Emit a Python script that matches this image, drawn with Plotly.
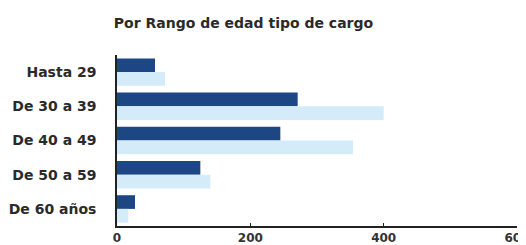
import plotly.graph_objects as go

categories = ["Hasta 29", "De 30 a 39", "De 40 a 49", "De 50 a 59", "De 60 años"]
serie_a = [57, 271, 245, 125, 27]
serie_b = [72, 400, 354, 140, 17]
x_ticks = [0, 200, 400, 600]

# the page body has an 8px margin, so the figure is 8px smaller and offset
W, H, OFF = 518, 237, 8

fig = go.Figure()
fig.add_trace(go.Bar(y=categories, x=serie_a, orientation="h",
                     marker=dict(color="#1d4784", line=dict(width=0)), name="A"))
fig.add_trace(go.Bar(y=categories, x=serie_b, orientation="h",
                     marker=dict(color="#d4ebfa", line=dict(width=0)), name="B"))

fig.update_layout(
    width=W, height=H,
    margin=dict(l=117 - OFF, r=9, t=55 - OFF, b=19, autoexpand=False),
    paper_bgcolor="white", plot_bgcolor="white",
    barmode="group", bargap=0.2, bargroupgap=0,
    showlegend=False,
    title=dict(text="<b>Por Rango de edad tipo de cargo</b>", x=(243.5 - OFF) / W, xanchor="center",
               y=1 - (23 - OFF) / H, yanchor="middle",
               font=dict(family="DejaVu Sans", size=14, color="#2a2a2a")),
    font=dict(family="DejaVu Sans", size=12, color="#222"),
)
fig.update_xaxes(range=[0, 600], tickvals=x_ticks, showgrid=False, zeroline=False,
                 showline=True, linecolor="#222", linewidth=2,
                 ticks="inside", ticklen=3, tickcolor="#222", automargin=False,
                 ticklabeloverflow="allow",
                 tickfont=dict(family="DejaVu Sans", size=12, color="#333", weight="bold"))
fig.update_yaxes(autorange="reversed", showgrid=False, zeroline=False,
                 showline=True, linecolor="#222", linewidth=1.5, automargin=False,
                 ticklabelstandoff=16,
                 tickfont=dict(family="DejaVu Sans", size=14, color="#2a2a2a", weight="bold"))

fig.write_html("out.html")
